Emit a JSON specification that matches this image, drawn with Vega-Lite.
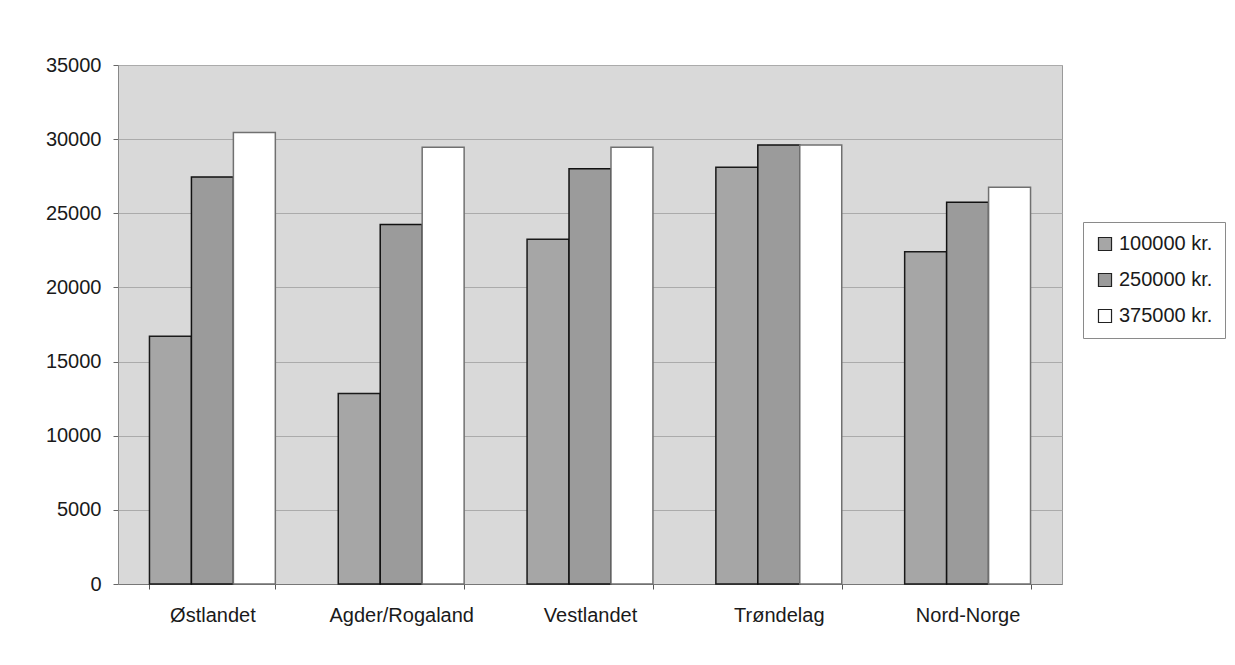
{
  "$schema": "https://vega.github.io/schema/vega-lite/v6.json",
  "width": 944,
  "height": 519,
  "autosize": {"type": "none"},
  "padding": {"left": 118, "top": 65, "right": 173, "bottom": 81},
  "background": "#ffffff",
  "config": {
    "font": "Liberation Sans",
    "view": {"fill": "#d9d9d9", "stroke": "#9a9a9a", "strokeWidth": 1},
    "axis": {"labelFont": "Liberation Sans", "labelColor": "#1a1a1a"}
  },
  "data": {
    "values": [
      {"region": "Østlandet", "income": "100000 kr.", "value": 16700},
      {"region": "Østlandet", "income": "250000 kr.", "value": 27450},
      {"region": "Østlandet", "income": "375000 kr.", "value": 30450},
      {"region": "Agder/Rogaland", "income": "100000 kr.", "value": 12850},
      {"region": "Agder/Rogaland", "income": "250000 kr.", "value": 24250},
      {"region": "Agder/Rogaland", "income": "375000 kr.", "value": 29450},
      {"region": "Vestlandet", "income": "100000 kr.", "value": 23250},
      {"region": "Vestlandet", "income": "250000 kr.", "value": 28000},
      {"region": "Vestlandet", "income": "375000 kr.", "value": 29450},
      {"region": "Trøndelag", "income": "100000 kr.", "value": 28100},
      {"region": "Trøndelag", "income": "250000 kr.", "value": 29600},
      {"region": "Trøndelag", "income": "375000 kr.", "value": 29600},
      {"region": "Nord-Norge", "income": "100000 kr.", "value": 22400},
      {"region": "Nord-Norge", "income": "250000 kr.", "value": 25750},
      {"region": "Nord-Norge", "income": "375000 kr.", "value": 26750}
    ]
  },
  "mark": {"type": "bar", "strokeWidth": 1.5},
  "encoding": {
    "x": {
      "field": "region",
      "type": "nominal",
      "sort": ["Østlandet", "Agder/Rogaland", "Vestlandet", "Trøndelag", "Nord-Norge"],
      "scale": {"paddingInner": 0.3333, "paddingOuter": 0.16667},
      "axis": {
        "title": null,
        "labelAngle": 0,
        "labelFontSize": 20,
        "labelPadding": 16,
        "tickBand": "extent",
        "tickSize": 5,
        "tickColor": "#555",
        "domainColor": "#777",
        "grid": false
      }
    },
    "xOffset": {
      "field": "income",
      "type": "nominal",
      "sort": ["100000 kr.", "250000 kr.", "375000 kr."]
    },
    "y": {
      "field": "value",
      "type": "quantitative",
      "scale": {"domain": [0, 35000], "nice": false},
      "axis": {
        "title": null,
        "values": [0, 5000, 10000, 15000, 20000, 25000, 30000, 35000],
        "format": "d",
        "labelFontSize": 20,
        "labelPadding": 12,
        "tickSize": 5,
        "tickColor": "#666",
        "domainColor": "#888",
        "grid": true,
        "gridColor": "#ababab",
        "gridWidth": 1
      }
    },
    "fill": {
      "field": "income",
      "type": "nominal",
      "sort": ["100000 kr.", "250000 kr.", "375000 kr."],
      "scale": {"range": ["#a6a6a6", "#9b9b9b", "#ffffff"]},
      "legend": {
        "title": null,
        "orient": "none",
        "legendX": 965,
        "legendY": 157,
        "strokeColor": "#8a8a8a",
        "fillColor": "#ffffff",
        "padding": 12,
        "labelFontSize": 20,
        "labelColor": "#1a1a1a",
        "symbolType": "square",
        "symbolSize": 170,
        "symbolStrokeColor": "#222222",
        "symbolStrokeWidth": 1.2,
        "rowPadding": 16,
        "labelOffset": 4
      }
    },
    "stroke": {
      "field": "income",
      "type": "nominal",
      "sort": ["100000 kr.", "250000 kr.", "375000 kr."],
      "scale": {"range": ["#1a1a1a", "#111111", "#707070"]},
      "legend": null
    }
  }
}
